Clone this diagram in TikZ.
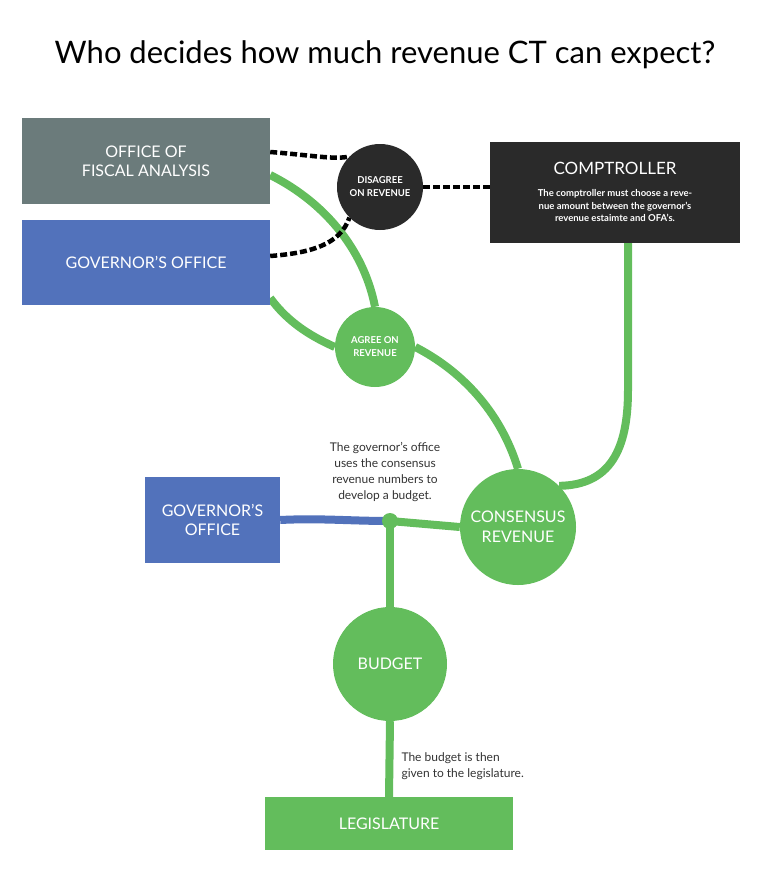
\documentclass[tikz,border=0pt]{standalone}
\usepackage{fontspec}
\setmainfont{Lato}
\begin{document}
\begin{tikzpicture}[x=1pt,y=-1pt,
 gl/.style={line width=8pt,color=grn},
 dl/.style={line width=4.5pt,dash pattern=on 7pt off 3pt,color=black},
 box/.style={rectangle,inner sep=0pt,text=white,align=center,font=\fontsize{16}{19}\selectfont},
 circ/.style={circle,inner sep=0pt,text=white,align=center,fill=grn}]
\definecolor{grn}{HTML}{63BD5C}
\definecolor{gry}{HTML}{6B7B7B}
\definecolor{blu}{HTML}{5272BB}
\definecolor{drk}{HTML}{2A2A2A}
\useasboundingbox (0,0) rectangle (771,880);
\node (title) at (385,55) {\fontsize{31}{36}\selectfont Who decides how much revenue CT can expect?};
% coordinates
\coordinate (j) at (390,521);
% lines first
\node[box,fill=gry,minimum width=248pt,minimum height=86pt] (ofa) at (146,161) {OFFICE OF\\FISCAL ANALYSIS};
\node[box,fill=blu,minimum width=248pt,minimum height=85pt] (gov) at (146,262.5) {GOVERNOR’S OFFICE};
\node[circ,fill=drk,minimum size=86pt,font=\bfseries\fontsize{9.5}{13}\selectfont] (dis) at (380,187) {DISAGREE\\ON REVENUE};
\node[box,fill=drk,minimum width=250pt,minimum height=101pt] (comp) at (615,192.5) {};
\node[text=white,align=center,font=\fontsize{17}{20}\selectfont] (ct) at (615,168) {COMPTROLLER};
\node[text=white,align=center,font=\bfseries\fontsize{9.5}{12.5}\selectfont] (cd) at (615,206) {The comptroller must choose a reve-\\nue amount between the governor’s\\revenue estaimte and OFA’s.};
\node[circ,minimum size=80pt,font=\bfseries\fontsize{9.5}{13}\selectfont] (agr) at (375,347) {AGREE ON\\REVENUE};
\node[circ,minimum size=116pt,font=\fontsize{16}{20}\selectfont] (cons) at (518,527) {CONSENSUS\\REVENUE};
\node[box,fill=blu,minimum width=135pt,minimum height=86pt] (gov2) at (212.5,520) {GOVERNOR’S\\OFFICE};
\node[circ,minimum size=114pt,font=\fontsize{16}{20}\selectfont] (bud) at (390,664) {BUDGET};
\node[box,fill=grn,minimum width=248pt,minimum height=53pt] (leg) at (389,823.5) {LEGISLATURE};
\begin{scope}[on background layer/.try]
\end{scope}
% connectors drawn over? draw beneath by reordering with layers
\pgfdeclarelayer{bg}\pgfsetlayers{bg,main}
\begin{pgfonlayer}{bg}
\draw[gl] (ofa.east |- 0,175) .. controls (330,205) and (365,255) .. (agr.north);
\draw[gl] (gov.east |- 0,298) .. controls (290,325) and (315,338) .. (agr.west);
\draw[gl] (agr.east) .. controls (460,370) and (500,410) .. (cons.north);
\draw[gl] (comp.south -| 628,0) -- (628,390) .. controls (628,450) and (610,485) .. (cons.north east);
\draw[gl] (cons.west) -- (j);
\draw[line width=8pt,blu] (gov2.east) .. controls (320,518) and (350,521) .. (j);
\draw[gl] (j) -- (bud.north);
\draw[gl] (bud.south) -- (leg.north);
\draw[dl] (ofa.east |- 0,152) .. controls (310,155) and (335,160) .. (dis.north west);
\draw[dl] (gov.east |- 0,256) .. controls (310,253) and (340,245) .. (dis.south west);
\draw[dl] (dis.east) -- (comp.west |- dis.east);
\end{pgfonlayer}
\node[circle,fill=grn,minimum size=16pt,inner sep=0pt] (jd) at (j) {};
\node[align=center,text=black!80,font=\fontsize{12}{16}\selectfont] (t1) at (385,472) {The governor’s office\\uses the consensus\\revenue numbers to\\develop a budget.};
\node[align=left,anchor=west,text=black!80,font=\fontsize{12}{16}\selectfont] (t2) at (398,766) {The budget is then\\given to the legislature.};
\end{tikzpicture}
\end{document}
